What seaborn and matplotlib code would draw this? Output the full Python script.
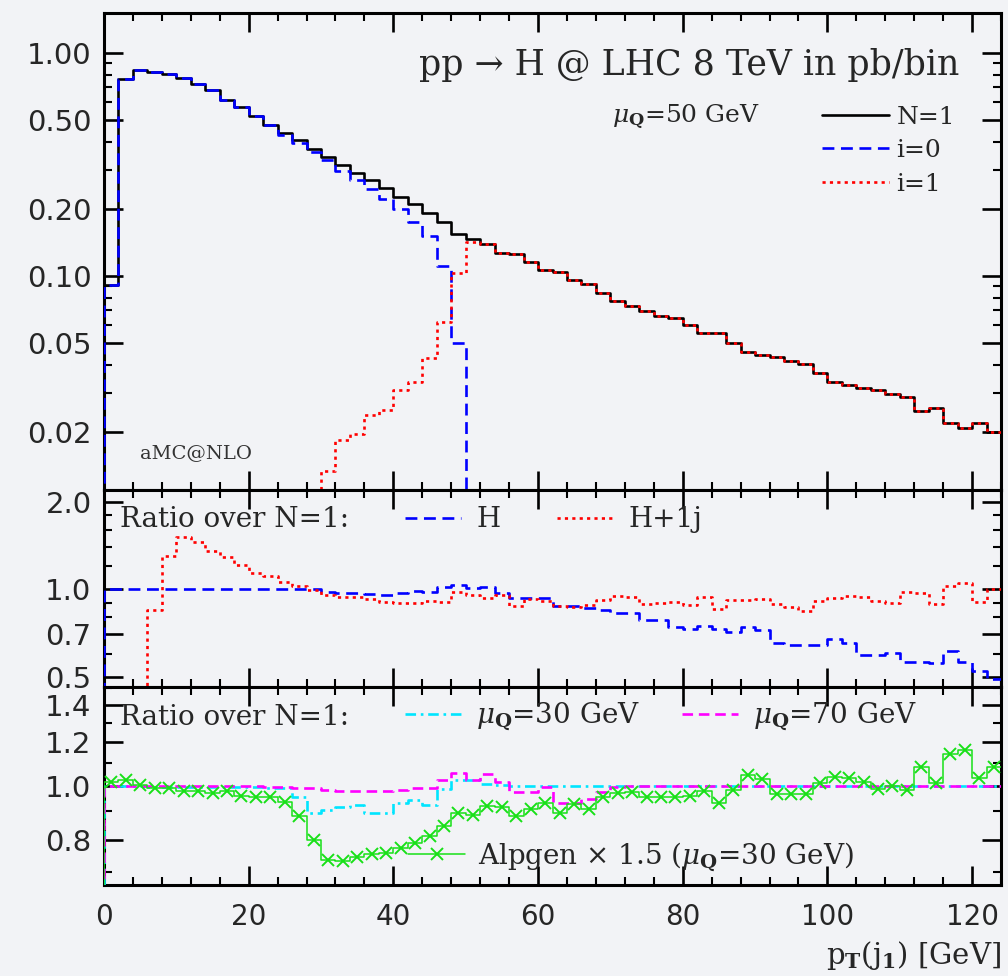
import numpy as np
import pandas as pd
import matplotlib
matplotlib.use("Agg")
import matplotlib.pyplot as plt
import seaborn as sns
from matplotlib.ticker import (FixedLocator, FuncFormatter, MultipleLocator,
                               NullFormatter, LogLocator)
from matplotlib.legend_handler import HandlerTuple

# ---------------- data (2 GeV bins from 0 to 124 GeV) ----------------
bin_edges = np.arange(0, 126, 2)

n1_xsec = [0.091, 0.764, 0.836, 0.824, 0.801, 0.769, 0.728, 0.680, 0.617, 0.571,
           0.523, 0.476, 0.438, 0.406, 0.371, 0.342, 0.313, 0.288, 0.269, 0.2475,
           0.2268, 0.2092, 0.1912, 0.1738, 0.1546, 0.1465, 0.1384, 0.1272, 0.1255, 0.1159,
           0.1064, 0.1045, 0.0960, 0.0920, 0.0842, 0.0775, 0.0736, 0.0699, 0.0662, 0.0646,
           0.0603, 0.0557, 0.0553, 0.0502, 0.0455, 0.0442, 0.0435, 0.0416, 0.0403, 0.0368,
           0.0336, 0.0324, 0.0314, 0.0308, 0.0295, 0.0287, 0.0248, 0.0255, 0.0220, 0.0207,
           0.0219, 0.0200]

i0_xsec = [0.091, 0.764, 0.836, 0.824, 0.801, 0.769, 0.728, 0.680, 0.617, 0.571,
           0.523, 0.476, 0.429, 0.396, 0.361, 0.331, 0.297, 0.268, 0.2446, 0.2207,
           0.199, 0.1752, 0.1512, 0.1109, 0.0499, 0.0, 0.0, 0.0, 0.0, 0.0,
           0.0, 0.0, 0.0, 0.0, 0.0, 0.0, 0.0, 0.0, 0.0, 0.0,
           0.0, 0.0, 0.0, 0.0, 0.0, 0.0, 0.0, 0.0, 0.0, 0.0,
           0.0, 0.0, 0.0, 0.0, 0.0, 0.0, 0.0, 0.0, 0.0, 0.0,
           0.0, 0.0]

i1_xsec = [0.0, 0.0, 0.0, 0.0, 0.0, 0.0, 0.0, 0.0, 0.0, 0.0,
           0.0, 0.0, 0.0, 0.0, 0.0, 0.0134, 0.0183, 0.0196, 0.0238, 0.0251,
           0.0308, 0.0336, 0.0428, 0.0624, 0.1035, 0.142, 0.1384, 0.1272, 0.1255, 0.1159,
           0.1064, 0.1045, 0.0960, 0.0920, 0.0842, 0.0775, 0.0736, 0.0699, 0.0662, 0.0646,
           0.0603, 0.0557, 0.0553, 0.0502, 0.0455, 0.0442, 0.0435, 0.0416, 0.0403, 0.0368,
           0.0336, 0.0324, 0.0314, 0.0308, 0.0295, 0.0287, 0.0248, 0.0255, 0.0220, 0.0207,
           0.0219, 0.0200]

ratio_H = [1.0, 1.0, 1.0, 1.0, 1.0, 1.0, 1.0, 1.0, 1.0, 1.0,
           1.0, 1.0, 1.0, 1.0, 1.0, 0.981, 0.973, 0.973, 0.963, 0.956,
           0.969, 0.989, 0.981, 1.016, 1.035, 1.008, 1.021, 0.969, 0.931, 0.931,
           0.931, 0.876, 0.876, 0.860, 0.848, 0.830, 0.830, 0.784, 0.784, 0.743,
           0.728, 0.747, 0.728, 0.714, 0.743, 0.724, 0.655, 0.643, 0.643, 0.643,
           0.672, 0.651, 0.593, 0.593, 0.602, 0.563, 0.563, 0.556, 0.614, 0.563,
           0.524, 0.489]

ratio_H1j = [0.0, 0.0, 0.0, 0.848, 1.303, 1.511, 1.459, 1.359, 1.289, 1.213,
             1.136, 1.111, 1.062, 1.027, 0.994, 0.956, 0.938, 0.938, 0.924, 0.906,
             0.899, 0.899, 0.913, 0.906, 0.981, 0.956, 0.931, 0.956, 0.876, 0.924,
             0.913, 0.876, 0.871, 0.883, 0.919, 0.948, 0.938, 0.890, 0.899, 0.904,
             0.883, 0.938, 0.853, 0.919, 0.919, 0.924, 0.890, 0.871, 0.844, 0.913,
             0.931, 0.948, 0.943, 0.913, 0.895, 0.981, 0.969, 0.890, 1.027, 1.049,
             0.906, 1.000]

ratio_mu30 = [1.0, 1.0, 1.0, 0.998, 0.998, 0.997, 0.998, 0.996, 0.997, 0.996,
              0.995, 0.994, 0.990, 0.957, 0.895, 0.905, 0.915, 0.925, 0.893, 0.895,
              0.931, 0.944, 0.924, 0.986, 1.025, 1.025, 1.008, 1.004, 1.0, 1.0,
              1.0, 0.999, 1.0, 1.0, 1.0, 1.0, 1.0, 1.0, 1.0, 1.0,
              1.0, 1.0, 1.0, 1.0, 1.0, 1.0, 1.0, 1.0, 1.0, 1.0,
              1.0, 1.0, 1.0, 1.0, 1.0, 1.0, 1.0, 1.0, 1.0, 1.0,
              1.0, 1.0]

ratio_mu70 = [1.0, 1.0, 1.0, 1.0, 1.0, 1.0, 1.0, 1.0, 1.0, 1.0,
              1.0, 0.998, 0.995, 0.990, 0.990, 0.985, 0.980, 0.978, 0.978, 0.980,
              0.985, 0.990, 0.990, 1.025, 1.057, 1.025, 1.050, 1.018, 0.977, 0.977,
              0.995, 0.933, 0.933, 0.946, 0.977, 0.995, 1.0, 1.0, 1.0, 1.0,
              1.0, 1.0, 1.0, 1.0, 1.0, 1.0, 1.0, 1.0, 1.0, 1.0,
              1.0, 1.0, 1.0, 1.0, 1.0, 1.0, 1.0, 1.0, 1.0, 1.0,
              1.0, 1.0]

ratio_alpgen = [1.018, 1.025, 1.004, 0.990, 0.990, 0.981, 0.980, 0.970, 0.980, 0.959,
                0.957, 0.954, 0.937, 0.883, 0.799, 0.736, 0.734, 0.746, 0.754, 0.756,
                0.772, 0.790, 0.813, 0.847, 0.895, 0.887, 0.920, 0.918, 0.883, 0.908,
                0.933, 0.895, 0.928, 0.908, 0.954, 0.973, 0.977, 0.957, 0.957, 0.957,
                0.959, 0.981, 0.933, 0.984, 1.047, 1.028, 0.967, 0.967, 0.967, 1.011,
                1.039, 1.032, 1.018, 0.986, 1.000, 0.984, 1.081, 1.014, 1.142, 1.161,
                1.032, 1.081]

for arr in (n1_xsec, i0_xsec, i1_xsec, ratio_H, ratio_H1j, ratio_mu30, ratio_mu70, ratio_alpgen):
    assert len(arr) == len(bin_edges) - 1, len(arr)

x_ticks = [0, 20, 40, 60, 80, 100, 120]
top_ticks = [0.02, 0.05, 0.10, 0.20, 0.50, 1.00]
mid_ticks = [0.5, 0.7, 1.0, 2.0]
bot_ticks = [0.8, 1.0, 1.2, 1.4]

# ---------------- style ----------------
sns.set_style("ticks")
plt.rcParams["font.family"] = ["DejaVu Sans"]
plt.rcParams["mathtext.fontset"] = "dejavuserif"
SERIF = ["DejaVu Serif", "DejaVu Sans"]
BG = "#f2f3f6"
TXT = 20  # ratio-panel text size

fig = plt.figure(figsize=(10.08, 9.76), dpi=100, facecolor=BG)
L, W = 104 / 1008, 897 / 1008


def rect(top_px, bot_px):
    return [L, 1 - bot_px / 976, W, (bot_px - top_px) / 976]


ax1 = fig.add_axes(rect(13, 490))
ax2 = fig.add_axes(rect(490, 687), sharex=ax1)
ax3 = fig.add_axes(rect(687, 885), sharex=ax1)
for ax in (ax1, ax2, ax3):
    ax.set_yscale("log")


def step(ax, vals, floor, **kw):
    v = np.clip(np.asarray(vals, float), floor, None)
    x = np.concatenate([[bin_edges[0]], bin_edges])
    y = np.concatenate([[floor], v, [v[-1]]])
    df = pd.DataFrame({"x": x, "y": y})
    sns.lineplot(data=df, x="x", y="y", ax=ax, drawstyle="steps-post",
                 sort=False, estimator=None, **kw)
    return ax.lines[-1]


# ---- top panel ----
h_n1 = step(ax1, n1_xsec, 1e-4, color="black", lw=1.9, ls="-", zorder=3)
h_i0 = step(ax1, i0_xsec, 1e-4, color="#0000ff", lw=1.9, ls=(0, (4.5, 2.5)), zorder=4)
h_i1 = step(ax1, i1_xsec, 1e-4, color="#ff0000", lw=1.9, ls=(0, (1.2, 1.6)), zorder=5)
ax1.set_ylim(0.01097, 1.51)

ax1.text(0.954, 0.891, "pp → H @ LHC 8 TeV in pb/bin", transform=ax1.transAxes,
         ha="right", va="center", fontsize=25, family=SERIF)
ax1.text(0.731, 0.782, r"$\mu_{\mathbf{Q}}$=50 GeV", transform=ax1.transAxes,
         ha="right", va="center", fontsize=18, family=SERIF)
ax1.text(0.040, 0.078, "aMC@NLO", transform=ax1.transAxes, ha="left", va="center",
         fontsize=14, family=SERIF, color="#333333")
ax1.legend([h_n1, h_i0, h_i1], ["N=1", "i=0", "i=1"], loc="upper left",
           bbox_to_anchor=(0.800, 0.806), frameon=False, borderpad=0, borderaxespad=0,
           handlelength=2.7, handletextpad=0.3, labelspacing=0.42,
           prop={"family": SERIF, "size": 18})

# ---- middle panel ----
h_H = step(ax2, ratio_H, 0.1, color="#0000ff", lw=1.9, ls=(0, (4.5, 2.5)), zorder=3)
h_H1j = step(ax2, ratio_H1j, 0.1, color="#ff0000", lw=1.9, ls=(0, (1.2, 1.6)), zorder=4)
ax2.set_ylim(0.46, 2.2)
ax2.text(0.018, 0.848, "Ratio over N=1:", transform=ax2.transAxes, ha="left",
         va="center", fontsize=TXT, family=SERIF)
ax2.legend([h_H, h_H1j], ["H", "H+1j"], loc="center left", ncol=2,
           bbox_to_anchor=(0.336, 0.848), frameon=False, borderpad=0, borderaxespad=0,
           handlelength=2.0, handletextpad=0.55, columnspacing=2.05,
           prop={"family": SERIF, "size": TXT})

# ---- bottom panel ----
h_m30 = step(ax3, ratio_mu30, 0.3, color="#00e5ff", lw=1.9,
             ls=(0, (4.0, 1.8, 1.0, 1.8)), zorder=3)
h_m70 = step(ax3, ratio_mu70, 0.3, color="#ff00ff", lw=1.9, ls=(0, (4.0, 2.2)), zorder=4)
h_alp = step(ax3, ratio_alpgen, 0.3, color="#18e018", lw=1.1, ls="-", zorder=5)
centers = 0.5 * (bin_edges[:-1] + bin_edges[1:])
sns.lineplot(x=centers, y=ratio_alpgen, ax=ax3, sort=False, estimator=None,
             ls="none", marker="x", markersize=9, markeredgewidth=1.4,
             markeredgecolor="#18e018", color="#18e018", zorder=6)
h_alp_m = ax3.lines[-1]
ax3.set_ylim(0.663, 1.509)
ax3.text(0.018, 0.848, "Ratio over N=1:", transform=ax3.transAxes, ha="left",
         va="center", fontsize=TXT, family=SERIF)
leg3 = ax3.legend([h_m30, h_m70], [r"$\mu_{\mathbf{Q}}$=30 GeV", r"$\mu_{\mathbf{Q}}$=70 GeV"],
                  loc="center left", ncol=2, bbox_to_anchor=(0.336, 0.848),
                  frameon=False, borderpad=0, borderaxespad=0,
                  handlelength=2.0, handletextpad=0.55, columnspacing=1.5,
                  prop={"family": SERIF, "size": TXT})
ax3.add_artist(leg3)
ax3.legend([(h_alp, h_alp_m)], [r"Alpgen $\times$ 1.5 ($\mu_{\mathbf{Q}}$=30 GeV)"],
           handler_map={tuple: HandlerTuple(ndivide=1)}, numpoints=1,
           loc="center left", bbox_to_anchor=(0.339, 0.141), frameon=False,
           borderpad=0, borderaxespad=0, handlelength=2.05, handletextpad=0.47,
           prop={"family": SERIF, "size": TXT})

# ---------------- axes styling ----------------
for ax in (ax1, ax2, ax3):
    ax.set_facecolor(BG)
    for s in ax.spines.values():
        s.set_linewidth(2.2)
        s.set_color("black")
    ax.tick_params(which="both", direction="in", top=True, right=True, color="black")
    ax.tick_params(which="major", length=14, width=1.9)
    ax.tick_params(which="minor", length=5.5, width=1.5)
    ax.xaxis.set_major_locator(FixedLocator(x_ticks))
    ax.xaxis.set_minor_locator(MultipleLocator(4))
    ax.set_xlim(0, 124)
    ax.set_xlabel("")
    ax.set_ylabel("")
    ax.yaxis.set_minor_formatter(NullFormatter())

ax1.yaxis.set_major_locator(FixedLocator(top_ticks))
ax1.yaxis.set_minor_locator(LogLocator(base=10, subs=np.arange(2, 10)))
ax1.yaxis.set_major_formatter(FuncFormatter(lambda v, p: f"{v:.2f}"))

ax2.yaxis.set_major_locator(FixedLocator(mid_ticks))
ax2.yaxis.set_minor_locator(FixedLocator([0.6, 0.8, 0.9, 1.2, 1.4, 1.6, 1.8]))
ax2.yaxis.set_major_formatter(FuncFormatter(lambda v, p: f"{v:.1f}"))

ax3.yaxis.set_major_locator(FixedLocator(bot_ticks))
ax3.yaxis.set_minor_locator(FixedLocator([0.7, 0.9, 1.1, 1.3, 1.5]))
ax3.yaxis.set_major_formatter(FuncFormatter(lambda v, p: f"{v:.1f}"))

for ax in (ax1, ax2):
    ax.tick_params(axis="x", labelbottom=False)
for ax in (ax1, ax2, ax3):
    ax.tick_params(axis="y", labelsize=21, pad=9)
ax3.tick_params(axis="x", labelsize=20, pad=13)

ax3.set_xlabel(r"p$_\mathbf{T}$(j$_\mathbf{1}$) [GeV]", fontsize=21, family=SERIF,
               ha="right", va="top")
ax3.xaxis.set_label_coords(1.0, -0.275)

fig.savefig("out.png", dpi=100, facecolor=BG)
